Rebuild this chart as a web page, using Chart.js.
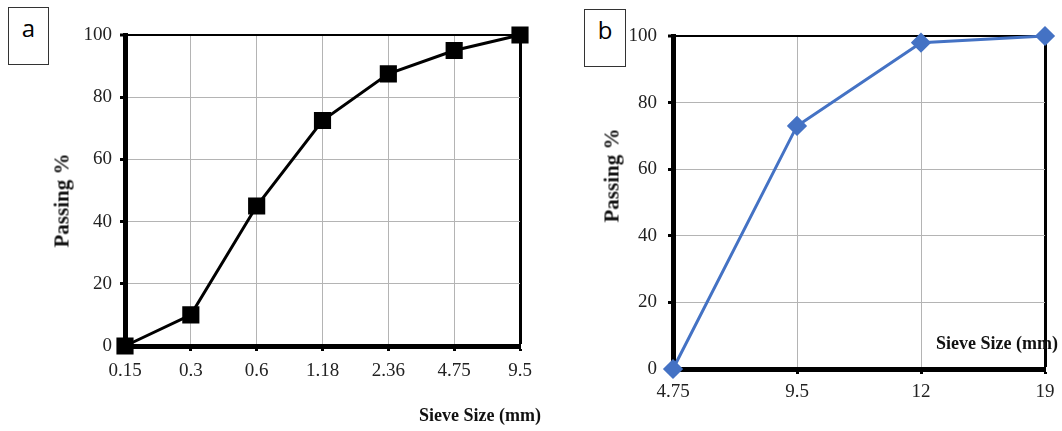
<!DOCTYPE html>
<html>
<head>
<meta charset="utf-8">
<script src="https://cdn.jsdelivr.net/npm/chart.js@4"></script>
<style>
  body { margin: 0; background: #fff; width: 1062px; height: 431px; position: relative; overflow: hidden; }
  .wrap { position: absolute; top: 0; height: 431px; }
  .box { position: absolute; border: 1px solid #333; background: #fff; font-family: "Open Sans", sans-serif; font-size: 24px; text-align: center; }
  .lbl { position: absolute; font-family: "Liberation Serif", serif; font-weight: bold; font-size: 18px; color: #111; white-space: nowrap; }
  .rot { transform: rotate(-90deg); transform-origin: center; font-size: 21px; }
</style>
</head>
<body>
<div class="wrap" style="left:0;width:560px"><canvas id="chartA"></canvas></div>
<div class="wrap" style="left:560px;width:502px"><canvas id="chartB"></canvas></div>

<div class="box" style="left:8px;top:7px;width:39px;height:56px;line-height:40px">a</div>
<div class="box" style="left:584px;top:9px;width:40px;height:56px;line-height:40px">b</div>

<div class="lbl rot" style="left:12px;top:188px;width:100px;text-align:center">Passing %</div>
<div class="lbl rot" style="left:562px;top:163px;width:100px;text-align:center">Passing %</div>
<div class="lbl" style="left:419px;top:405px">Sieve Size (mm)</div>
<div class="lbl" style="left:936px;top:333px">Sieve Size (mm)</div>

<script>
// chart a - fine aggregate
const sievesA = ["0.15", "0.3", "0.6", "1.18", "2.36", "4.75", "9.5"];
const passingA = [0, 10, 45, 72.5, 87.5, 95, 100];

// chart b - coarse aggregate
const sievesB = ["4.75", "9.5", "12", "19"];
const passingB = [0, 73, 98, 100];

const yTicks = [0, 20, 40, 60, 80, 100];

const tickFont = { family: "Liberation Serif", size: 19 };

function makeChart(id, labels, values, color, pointStyle, radius, box) {
	const ctx = document.getElementById(id).getContext('2d');
	const lastIdx = labels.length - 1;
	return new Chart(ctx, {
		type: 'line',
		data: {
			labels: labels,
			datasets: [{
				data: values,
				borderColor: color,
				backgroundColor: color,
				borderWidth: 3,
				pointStyle: pointStyle,
				pointRadius: radius,
				pointHoverRadius: radius,
				tension: 0,
				clip: false
			}]
		},
		options: {
			responsive: true,
			maintainAspectRatio: false,
			animation: false,
			layout: { padding: { left: 0, top: box.top, right: box.right, bottom: 0 } },
			plugins: { legend: { display: false }, tooltip: { enabled: false } },
			scales: {
				x: {
					offset: false,
					afterFit: s => { s.height = box.xh; },
					border: { display: true, width: 5, color: '#000' },
					grid: {
						color: c => c.index === lastIdx ? '#000' : '#b4b4b4',
						lineWidth: c => c.index === lastIdx ? 3 : 1,
						tickColor: '#000',
						tickLength: 5,
						tickWidth: 3
					},
					ticks: { font: tickFont, color: '#222', padding: box.xpad, maxRotation: 0 }
				},
				y: {
					min: 0,
					max: 100,
					afterFit: s => { s.width = box.yw; },
					afterBuildTicks: s => { s.ticks = yTicks.map(v => ({ value: v })); },
					border: { display: true, width: 5, color: '#000' },
					grid: {
						color: c => c.tick && c.tick.value === 100 ? '#000' : '#b4b4b4',
						lineWidth: c => c.tick && c.tick.value === 100 ? 2 : 1,
						tickColor: '#000',
						tickLength: 5,
						tickWidth: 3
					},
					ticks: { font: tickFont, color: '#222', padding: box.ypad }
				}
			}
		}
	});
}

makeChart("chartA", sievesA, passingA, '#000', 'rect', 10,
	{ top: 35, right: 40, xh: 85, yw: 125, xpad: 9, ypad: 8 });
makeChart("chartB", sievesB, passingB, '#4472C4', 'rectRot', 8,
	{ top: 36, right: 17, xh: 62, yw: 113, xpad: 7, ypad: 11 });
</script>
</body>
</html>
